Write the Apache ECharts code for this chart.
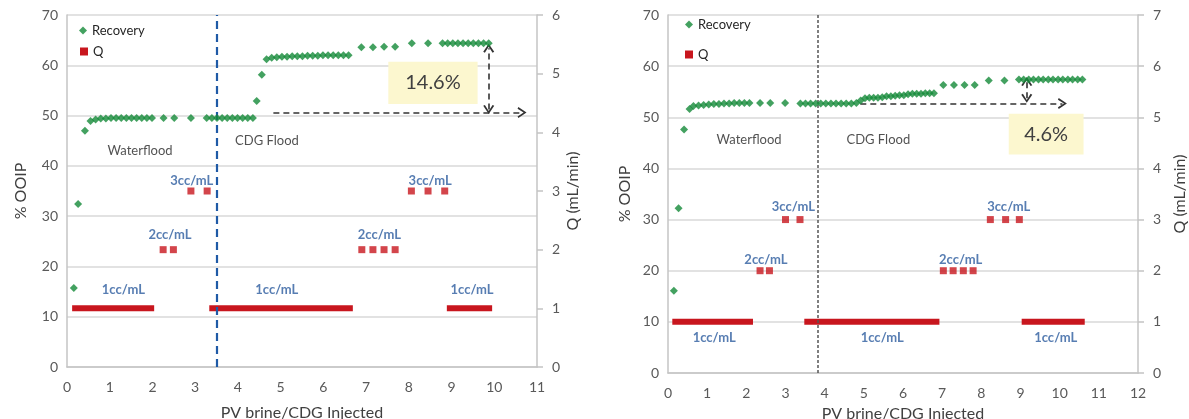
<!DOCTYPE html>
<html>
<head>
<meta charset="utf-8">
<script src="https://cdn.jsdelivr.net/npm/echarts@6/dist/echarts.min.js"></script>
<style>
html,body{margin:0;padding:0;background:#fff;}
#c{width:1189px;height:419px;}
</style>
</head>
<body>
<div id="c"></div>
<script>
// ---------- data ----------
const xTicksLeft = [0, 11];
const xTicksRight = [0, 12];
const oopTicks = [0, 70, 10];
const qTicksLeft = [0, 6, 1];
const qTicksRight = [0, 7, 1];

const leftRecovery = [
[0.16,15.7],[0.26,32.4],[0.42,47.0],[0.55,48.9],
[0.67,49.2],[0.79,49.4],[0.91,49.4],[1.03,49.5],[1.15,49.5],[1.27,49.5],[1.39,49.5],[1.51,49.5],[1.63,49.5],[1.75,49.5],[1.87,49.5],[1.99,49.5],
[2.26,49.5],[2.51,49.5],[2.90,49.5],
[3.27,49.5],[3.39,49.5],[3.51,49.5],[3.63,49.5],[3.75,49.5],[3.87,49.5],[3.99,49.5],[4.11,49.5],[4.23,49.5],[4.35,49.5],
[4.44,52.9],[4.56,58.1],[4.67,61.2],
[4.79,61.5],[4.91,61.6],[5.03,61.7],[5.15,61.7],[5.27,61.8],[5.39,61.8],[5.51,61.8],[5.63,61.9],[5.75,61.9],[5.87,61.9],[5.99,62.0],[6.11,62.0],[6.23,62.0],[6.35,62.0],[6.47,62.0],[6.59,62.0],
[6.89,63.6],[7.16,63.6],[7.42,63.7],[7.68,63.7],
[8.07,64.4],[8.45,64.4],
[8.79,64.4],[8.91,64.4],[9.03,64.4],[9.15,64.4],[9.27,64.4],[9.39,64.4],[9.51,64.4],[9.63,64.4],[9.75,64.4],[9.87,64.4]
];
const leftQPoints = [[2.25,2],[2.49,2],[2.90,3],[3.28,3],[6.90,2],[7.16,2],[7.42,2],[7.68,2],[8.06,3],[8.45,3],[8.84,3]];
const leftQRuns = [[0.12,2.04,1],[3.33,6.69,1],[8.89,9.95,1]];
const leftFloodStart = 3.51;
const leftRateNotes = [[1.32,15.3,'1cc/mL'],[4.91,15.3,'1cc/mL'],[9.48,15.3,'1cc/mL'],[2.41,26.2,'2cc/mL'],[7.31,26.2,'2cc/mL'],[2.92,37.0,'3cc/mL'],[8.50,37.0,'3cc/mL']];
const leftPhaseNotes = [[1.71,42.9,'Waterflood'],[4.68,44.9,'CDG Flood']];
const leftGainArrow = [[4.83,50.6],[10.65,50.6]];
const leftGainSpan = [[9.87,51.2],[9.87,63.4]];
const leftGainBox = [[7.52,60.7],[9.61,52.3],'14.6%'];

const rightRecovery = [
[0.15,16.1],[0.27,32.2],[0.41,47.6],[0.55,51.6],[0.65,52.2],
[0.78,52.3],[0.91,52.4],[1.04,52.5],[1.17,52.6],[1.30,52.6],[1.43,52.7],[1.56,52.7],[1.69,52.8],[1.82,52.8],[1.95,52.8],[2.08,52.8],
[2.35,52.8],[2.61,52.8],[2.99,52.8],
[3.38,52.7],[3.51,52.7],[3.64,52.7],[3.77,52.7],[3.90,52.7],[4.03,52.7],[4.16,52.7],[4.29,52.7],[4.42,52.7],[4.55,52.7],[4.68,52.7],[4.81,52.8],
[4.92,53.3],[5.03,53.7],[5.14,53.8],[5.25,53.8],[5.36,53.8],[5.47,53.9],[5.58,54.1],[5.69,54.1],[5.80,54.2],[5.91,54.3],[6.02,54.3],[6.13,54.5],[6.24,54.6],[6.35,54.6],[6.46,54.6],[6.57,54.7],[6.68,54.7],[6.79,54.7],
[7.03,56.3],[7.30,56.3],[7.57,56.3],[7.83,56.3],
[8.19,57.2],[8.59,57.2],
[8.96,57.4],[9.08,57.4],[9.21,57.4],[9.33,57.4],[9.46,57.4],[9.58,57.4],[9.71,57.4],[9.83,57.4],[9.96,57.4],[10.08,57.4],[10.21,57.4],[10.33,57.4],[10.46,57.4],[10.58,57.4]
];
const rightQPoints = [[2.35,2],[2.59,2],[3.00,3],[3.37,3],[7.03,2],[7.28,2],[7.54,2],[7.79,2],[8.23,3],[8.62,3],[8.97,3]];
const rightQRuns = [[0.11,2.17,1],[3.48,6.93,1],[9.03,10.64,1]];
const rightFloodStart = 3.82;
const rightRateNotes = [[1.18,6.9,'1cc/mL'],[5.47,6.9,'1cc/mL'],[9.90,6.9,'1cc/mL'],[2.50,22.1,'2cc/mL'],[7.47,22.1,'2cc/mL'],[3.20,32.5,'3cc/mL'],[8.70,32.5,'3cc/mL']];
const rightPhaseNotes = [[2.07,45.6,'Waterflood'],[5.37,45.6,'CDG Flood']];
const rightGainArrow = [[4.91,52.7],[10.07,52.7]];
const rightGainSpan = [[9.16,53.7],[9.16,57.0]];
const rightGainBox = [[8.70,50.7],[10.61,42.7],'4.6%'];

// ---------- styles ----------
const FONT = 'Lato';
const GREEN = '#148a38';
const RED = '#c8161e';
const BLUE = '#2d5c9f';
const AXIS = '#c4c4c4';
const GRID = '#d9d9d9';
const LABEL = '#595959';
const CHEVRON = 'path://M0,10 L6,0 L12,10 L10.2,11 L6,3.6 L1.8,11 Z';

function xAxis(gi, range, gap) {
  return {
    type: 'value', gridIndex: gi, min: range[0], max: range[1], interval: 1,
    axisLine: {show: true, lineStyle: {color: AXIS, width: 1.5}},
    axisTick: {show: false}, splitLine: {show: false},
    axisLabel: {color: LABEL, fontSize: 14, margin: 13, fontFamily: FONT},
    name: 'PV brine/CDG Injected', nameLocation: 'middle', nameGap: gap,
    nameTextStyle: {color: '#404040', fontSize: 16, fontFamily: FONT}
  };
}
function yLeft(gi, gap) {
  return {
    type: 'value', gridIndex: gi, position: 'left', min: oopTicks[0], max: oopTicks[1], interval: oopTicks[2],
    axisLine: {show: true, lineStyle: {color: AXIS, width: 1.5}},
    axisTick: {show: false},
    splitLine: {show: true, lineStyle: {color: GRID, width: 1.5}},
    axisLabel: {color: LABEL, fontSize: 14, margin: 9, fontFamily: FONT},
    name: '% OOIP', nameLocation: 'middle', nameGap: gap,
    nameTextStyle: {color: '#404040', fontSize: 16, fontFamily: FONT}
  };
}
function yRight(gi, t, gap) {
  return {
    type: 'value', gridIndex: gi, position: 'right', min: t[0], max: t[1], interval: t[2],
    axisLine: {show: true, lineStyle: {color: AXIS, width: 1.5}},
    axisTick: {show: true, inside: false, length: 6, lineStyle: {color: AXIS, width: 1.5}},
    splitLine: {show: false},
    axisLabel: {color: LABEL, fontSize: 14, margin: 15, fontFamily: FONT},
    name: 'Q (mL/min)', nameLocation: 'middle', nameGap: gap,
    nameTextStyle: {color: '#404040', fontSize: 16, fontFamily: FONT}
  };
}

function chartSeries(xi, yL, yR, rec, qPts, qRuns, floodX, sepStyle, rateNotes, phaseNotes, arrow, span, box) {
  const s = [];
  s.push({
    name: 'Recovery', type: 'scatter', xAxisIndex: xi, yAxisIndex: yL,
    symbol: 'diamond', symbolSize: 8, itemStyle: {color: GREEN}, data: rec, z: 5
  });
  qRuns.forEach(r => {
    s.push({
      name: 'Q', type: 'line', xAxisIndex: xi, yAxisIndex: yR, symbol: 'none',
      lineStyle: {color: RED, width: 6, cap: 'butt'}, itemStyle: {color: RED},
      data: [[r[0], r[2]], [r[1], r[2]]], z: 4
    });
  });
  s.push({
    name: 'Q', type: 'scatter', xAxisIndex: xi, yAxisIndex: yR,
    symbol: 'rect', symbolSize: 7, itemStyle: {color: RED}, data: qPts, z: 4
  });
  const ann = {lineStyle: {color: '#333', width: 1.6, type: [6, 4]}};
  s.push({
    name: 'rateNotes', type: 'scatter', xAxisIndex: xi, yAxisIndex: yL, symbolSize: 0,
    data: rateNotes, z: 6,
    label: {show: true, position: 'inside', formatter: p => p.data[2], color: BLUE, fontSize: 13, fontWeight: 'bold', fontFamily: FONT},
    markLine: {
      silent: true, animation: false, symbol: ['none', 'none'], symbolSize: [11, 9],
      label: {show: false},
      data: [
        [{xAxis: floodX, yAxis: oopTicks[0], lineStyle: sepStyle}, {xAxis: floodX, yAxis: oopTicks[1]}],
        [{coord: arrow[0], symbol: 'none', lineStyle: ann.lineStyle}, {coord: arrow[1], symbol: CHEVRON}],
        [{coord: span[0], symbol: CHEVRON, lineStyle: ann.lineStyle}, {coord: span[1], symbol: CHEVRON}]
      ]
    },
    markArea: {
      silent: true, animation: false,
      itemStyle: {color: '#fcf7cf'},
      label: {show: true, position: 'inside', color: '#404040', fontSize: 20, fontFamily: FONT},
      data: [[{coord: box[0], name: box[2]}, {coord: box[1]}]]
    }
  });
  s.push({
    name: 'phaseNotes', type: 'scatter', xAxisIndex: xi, yAxisIndex: yL, symbolSize: 0,
    data: phaseNotes, z: 6,
    label: {show: true, position: 'inside', formatter: p => p.data[2], color: '#262626', fontSize: 13, fontFamily: FONT}
  });
  return s;
}

const legendBase = {
  padding: 0, itemWidth: 8, itemHeight: 8, itemGap: 0, selectedMode: false,
  textStyle: {fontSize: 13, color: '#262626', fontFamily: FONT}
};

const option = {
  animation: false,
  backgroundColor: '#ffffff',
  textStyle: {fontFamily: FONT},
  grid: [
    {left: 67, top: 15, width: 470, height: 352, containLabel: false, outerBoundsMode: 'none'},
    {left: 668, top: 15, width: 470, height: 358, containLabel: false, outerBoundsMode: 'none'}
  ],
  xAxis: [xAxis(0, xTicksLeft, 38), xAxis(1, xTicksRight, 33)],
  yAxis: [yLeft(0, 38), yRight(0, qTicksLeft, 28), yLeft(1, 35), yRight(1, qTicksRight, 34)],
  legend: [
    Object.assign({}, legendBase, {left: 79, top: 24, data: [{name: 'Recovery', icon: 'diamond'}]}),
    Object.assign({}, legendBase, {left: 80, top: 45, data: [{name: 'Q', icon: 'rect'}]}),
    Object.assign({}, legendBase, {left: 685, top: 18, data: [{name: 'Recovery', icon: 'diamond'}]}),
    Object.assign({}, legendBase, {left: 685, top: 48, data: [{name: 'Q', icon: 'rect'}]})
  ],
  series: [].concat(
    chartSeries(0, 0, 1, leftRecovery, leftQPoints, leftQRuns, leftFloodStart,
      {color: '#1f5aa6', width: 2.2, type: [8, 5]}, leftRateNotes, leftPhaseNotes, leftGainArrow, leftGainSpan, leftGainBox),
    chartSeries(1, 2, 3, rightRecovery, rightQPoints, rightQRuns, rightFloodStart,
      {color: '#555555', width: 1.5, type: [3, 2]}, rightRateNotes, rightPhaseNotes, rightGainArrow, rightGainSpan, rightGainBox)
  )
};

const chart = echarts.init(document.getElementById('c'), null, {renderer: 'canvas'});
chart.setOption(option);
</script>
</body>
</html>
